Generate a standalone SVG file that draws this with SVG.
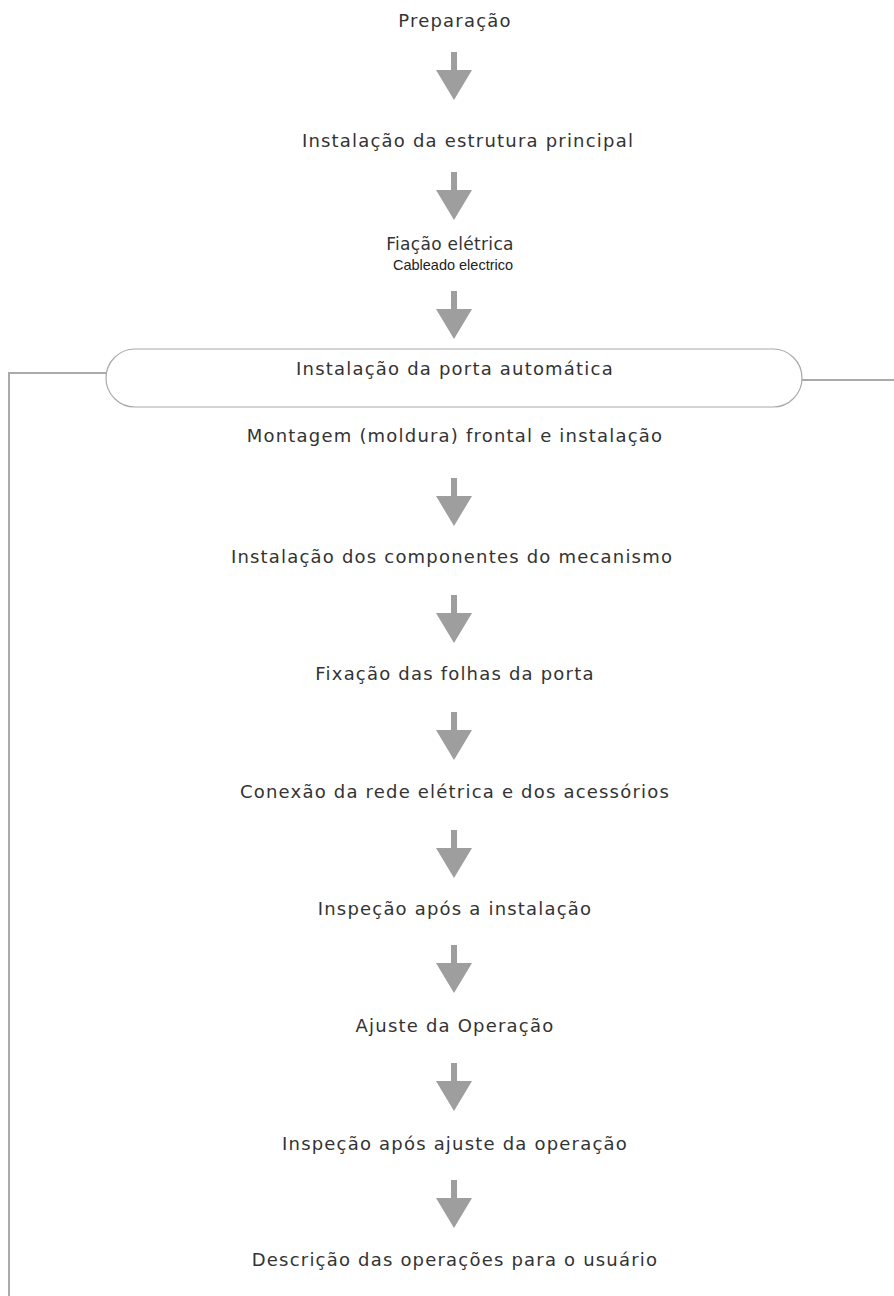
<svg xmlns="http://www.w3.org/2000/svg" xmlns:xlink="http://www.w3.org/1999/xlink" width="894" height="1296" viewBox="0 0 894 1296">
<style>
.t{font-family:"DejaVu Sans","Noto Sans",sans-serif;font-size:18px;letter-spacing:1.2px;fill:#333;text-anchor:middle}
.f{font-size:17px;letter-spacing:0.3px}
.s{font-family:"Liberation Sans",Arial,sans-serif;font-size:14.5px;fill:#222;text-anchor:middle}
.ln{fill:none;stroke:#aaa;stroke-width:2}
.box{fill:#fff;stroke:#aaa;stroke-width:1.2}
.ar{fill:#9e9e9e}
</style>
<defs>
<path id="arrow" class="ar" d="M451,0 H457 V18 H472 L454,48 L436,18 H451 Z"/>
</defs>
<rect width="894" height="1296" fill="#fff"/>
<g id="connectors">
<polyline class="ln" points="106,373 9,373 9,1296"/>
<line class="ln" x1="802" y1="380" x2="894" y2="380"/>
<use xlink:href="#arrow" y="52"/>
<use xlink:href="#arrow" y="172"/>
<use xlink:href="#arrow" y="291"/>
<use xlink:href="#arrow" y="478"/>
<use xlink:href="#arrow" y="595"/>
<use xlink:href="#arrow" y="712"/>
<use xlink:href="#arrow" y="830"/>
<use xlink:href="#arrow" y="945"/>
<use xlink:href="#arrow" y="1063"/>
<use xlink:href="#arrow" y="1180"/>
</g>
<g id="n1"><text class="t" x="455" y="27">Preparação</text></g>
<g id="n2"><text class="t" x="468" y="147">Instalação da estrutura principal</text></g>
<g id="n3"><text class="t f" x="450" y="250">Fiação elétrica</text><text class="s" x="453" y="270">Cableado electrico</text></g>
<g id="n4"><rect class="box" x="106" y="349" width="696" height="58" rx="29"/><text class="t" x="455" y="375">Instalação da porta automática</text></g>
<g id="n5"><text class="t" x="455" y="442">Montagem (moldura) frontal e instalação</text></g>
<g id="n6"><text class="t" x="452" y="563">Instalação dos componentes do mecanismo</text></g>
<g id="n7"><text class="t" x="455" y="680">Fixação das folhas da porta</text></g>
<g id="n8"><text class="t" x="455" y="798">Conexão da rede elétrica e dos acessórios</text></g>
<g id="n9"><text class="t" x="455" y="915">Inspeção após a instalação</text></g>
<g id="n10"><text class="t" x="455" y="1032">Ajuste da Operação</text></g>
<g id="n11"><text class="t" x="455" y="1150">Inspeção após ajuste da operação</text></g>
<g id="n12"><text class="t" x="455" y="1266">Descrição das operações para o usuário</text></g>
</svg>
